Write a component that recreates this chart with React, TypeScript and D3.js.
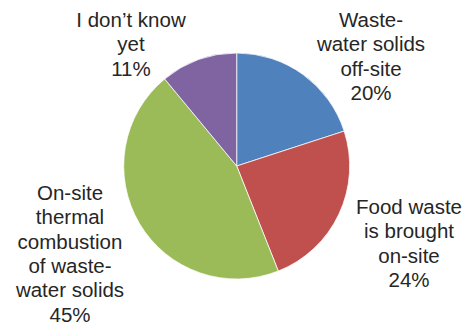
import React from "react";
import * as d3 from "d3";

const categories = [
  "Waste-water solids off-site",
  "Food waste is brought on-site",
  "On-site thermal combustion of waste-water solids",
  "I don't know yet",
];
const values = [20, 24, 45, 11];
const colors = ["#4F81BD", "#C0504D", "#9BBB59", "#8064A2"];
const labelLines = [
  ["Waste-", "water solids", "off-site", "20%"],
  ["Food waste", "is brought", "on-site", "24%"],
  ["On-site", "thermal", "combustion", "of waste-", "water solids", "45%"],
  ["I don\u2019t know", "yet", "11%"],
];
// label anchor: center x, first baseline y
const labelPos = [
  [371, 27],
  [409, 214],
  [70, 200],
  [131, 27],
];

export default function App() {
  const W = 465;
  const H = 324;
  const cx = 236.7;
  const cy = 166;
  const r = 113;
  const pie = d3.pie<number>().sort(null).value((d) => d);
  const arcs = pie(values);
  const arc = d3.arc<d3.PieArcDatum<number>>().innerRadius(0).outerRadius(r);
  const lh = 24.3;
  return (
    <svg
      width={W}
      height={H}
      style={{ position: "absolute", left: 0, top: 0, background: "#fff" }}
    >
      <g transform={`translate(${cx},${cy})`}>
        {arcs.map((a, i) => (
          <path
            key={categories[i]}
            d={arc(a) || ""}
            fill={colors[i]}
            stroke="#ffffff"
            strokeWidth={0.75}
          />
        ))}
      </g>
      {labelLines.map((lines, i) => (
        <text
          key={i}
          textAnchor="middle"
          fontFamily="'Liberation Sans', Arial, sans-serif"
          fontSize={20.5}
          fill="#262626"
        >
          {lines.map((l, j) => (
            <tspan key={j} x={labelPos[i][0]} y={labelPos[i][1] + j * lh}>
              {l}
            </tspan>
          ))}
        </text>
      ))}
    </svg>
  );
}
